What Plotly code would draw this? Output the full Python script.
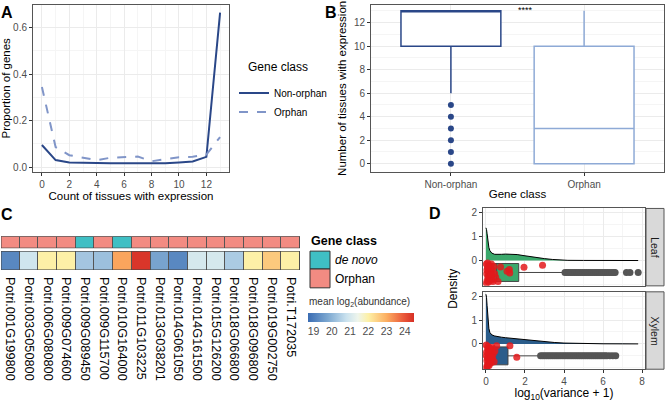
import plotly.graph_objects as go

W, H = 670, 402
FONT = "Liberation Sans, Arial, sans-serif"

# ---------------- Panel A data ----------------
tissue_counts = list(range(14))
prop_nonorphan = [0.095, 0.030, 0.020, 0.017, 0.017, 0.016, 0.016, 0.015, 0.015, 0.016, 0.020, 0.024, 0.044, 0.664]
prop_orphan = [0.344, 0.086, 0.051, 0.041, 0.030, 0.040, 0.044, 0.045, 0.025, 0.033, 0.042, 0.044, 0.054, 0.129]

# ---------------- Panel B data ----------------
b_positions = [1, 2]
b_classes = ["Non-orphan", "Orphan"]
b_q1 = [10, 0]
b_median = [13, 3]
b_q3 = [13, 10]
b_lower = [6, 0]
b_upper = [13, 13]
b_outliers_nonorphan = [0, 1, 2, 3, 4, 5]

# ---------------- Panel C data ----------------
c_genes = ["Potri.001G199800", "Potri.003G050800", "Potri.006G080800", "Potri.009G074600",
           "Potri.009G089450", "Potri.009G115700", "Potri.010G164000", "Potri.011G103225",
           "Potri.013G038201", "Potri.014G061050", "Potri.014G161500", "Potri.015G126200",
           "Potri.018G066800", "Potri.018G096800", "Potri.019G002750", "Potri.T172035"]
c_class = ["Orphan", "Orphan", "Orphan", "Orphan", "de novo", "Orphan", "de novo", "Orphan",
           "Orphan", "Orphan", "Orphan", "Orphan", "Orphan", "Orphan", "Orphan", "Orphan"]
c_abundance = [19.2, 20.9, 22.0, 22.0, 20.3, 20.2, 23.1, 24.4,
               19.7, 19.2, 21.0, 21.0, 20.4, 22.0, 22.6, 22.0]
c_ticks = [19, 20, 21, 22, 23, 24]

# ---------------- Panel D data ----------------
leaf_x = [0.0, 0.03, 0.06, 0.1, 0.15, 0.2, 0.3, 0.45, 0.6, 0.8, 1.0, 1.3, 1.6, 1.9, 2.2, 2.6, 3.0, 3.4, 3.8, 4.2, 5.0, 6.0, 7.0, 7.8]
leaf_density = [1.37, 1.30, 1.12, 0.82, 0.55, 0.42, 0.31, 0.26, 0.25, 0.26, 0.27, 0.27, 0.25, 0.21, 0.17, 0.12, 0.08, 0.045, 0.02, 0.008, 0.004, 0.002, 0.001, 0.0]
xylem_x = [0.0, 0.03, 0.06, 0.1, 0.15, 0.2, 0.3, 0.45, 0.6, 0.8, 1.0, 1.5, 2.0, 2.5, 3.0, 3.5, 4.0, 4.5, 5.0, 6.0, 7.0, 7.8]
xylem_density = [2.08, 1.95, 1.6, 1.05, 0.65, 0.48, 0.38, 0.33, 0.30, 0.28, 0.26, 0.22, 0.17, 0.12, 0.09, 0.06, 0.035, 0.02, 0.012, 0.005, 0.002, 0.0]

leaf_box = dict(q1=0.02, median=0.55, q3=1.68, lower=0.0, upper=4.0)
xylem_box = dict(q1=0.02, median=0.35, q3=1.13, lower=0.0, upper=2.75)

leaf_outliers = [4.05, 4.15, 4.25, 4.35, 4.45, 4.55, 4.65, 4.75, 4.85, 4.95, 5.05, 5.15, 5.25, 5.35,
                 5.45, 5.55, 5.65, 5.75, 5.85, 5.95, 6.05, 6.15, 6.25, 6.35, 6.45, 6.55, 6.62,
                 7.2, 7.38, 7.8]
xylem_outliers = [2.8, 2.9, 3.0, 3.1, 3.2, 3.3, 3.4, 3.5, 3.6, 3.7, 3.8, 3.9, 4.0, 4.1, 4.2, 4.3,
                  4.4, 4.5, 4.6, 4.7, 4.8, 4.9, 5.0, 5.1, 5.2, 5.3, 5.4, 5.5, 5.6, 5.7, 5.8, 5.9,
                  6.0, 6.1, 6.2, 6.35, 6.5, 6.65]

leaf_red_x = [0.02, 0.04, 0.06, 0.08, 0.1, 0.12, 0.14, 0.16, 0.18, 0.2, 0.22, 0.25, 0.28, 0.3, 0.33,
              0.36, 0.4, 0.45, 0.5, 0.03, 0.09, 0.13, 0.19, 0.24, 0.31, 0.05, 0.11, 0.17, 0.27,
              0.62, 0.75, 1.08, 1.2, 1.22, 1.95, 2.9]
leaf_red_y = [-0.15, -0.55, -0.85, -0.3, -0.7, -0.45, -0.9, -0.2, -0.6, -0.35, -0.78, -0.5, -0.15,
              -0.65, -0.4, -0.88, -0.25, -0.55, -0.7, -0.95, -0.1, -0.62, -0.48, -0.3, -0.82, -0.4,
              -0.25, -0.72, -0.58, -0.88, -0.27, -0.45, -0.38, -0.52, -0.28, -0.2]
xylem_red_x = [0.01, 0.03, 0.05, 0.07, 0.09, 0.11, 0.13, 0.15, 0.17, 0.2, 0.22, 0.25, 0.28, 0.3, 0.34,
               0.38, 0.42, 0.46, 0.02, 0.06, 0.1, 0.14, 0.18, 0.24, 0.32, 0.04, 0.08, 0.12, 0.16,
               0.21, 0.27, 0.55, 1.23, 1.58]
xylem_red_y = [-0.05, -0.35, -0.7, -0.95, -0.2, -0.55, -0.85, -0.4, -0.15, -0.65, -0.3, -0.8, -0.5,
               -0.22, -0.6, -0.4, -0.75, -0.3, -0.5, -0.9, -0.1, -0.68, -0.28, -0.45, -0.15, -1.0,
               -0.6, -0.35, -0.9, -0.7, -0.55, -0.08, -0.08, -0.56]

# ---------------- styling ----------------
NAVY = "#2a4788"
LIGHTB = "#8095c8"
B_ORPH = "#8eaad6"
TEAL = "#3fbfc4"
SALMON = "#f28b82"
GREEN = "#3aa86b"
XBLUE = "#2b5d8b"
RED = "#e31a1c"
GRID = "#ebebeb"
MINOR = "#f5f5f5"
BORDER = "#555555"
TICKC = "#4d4d4d"
TICKSIZE = 10
TITLESIZE = 11.5


def px(p):
    return p / W


def py(p):
    return 1 - p / H


def frame(**kw):
    d = dict(showline=True, mirror=True, linecolor=BORDER, linewidth=1,
             ticks="outside", ticklen=3, tickcolor="#333333",
             tickfont=dict(size=TICKSIZE, color=TICKC, family=FONT),
             showgrid=True, gridcolor=GRID, gridwidth=1, zeroline=False)
    d.update(kw)
    return d


fig = go.Figure()

# ---- Panel A ----
fig.add_trace(go.Scatter(x=tissue_counts, y=prop_nonorphan, mode="lines", name="Non-orphan",
                         line=dict(color=NAVY, width=2), xaxis="x", yaxis="y"))
fig.add_trace(go.Scatter(x=tissue_counts, y=prop_orphan, mode="lines", name="Orphan",
                         line=dict(color=LIGHTB, width=2, dash="dash"), xaxis="x", yaxis="y"))

# ---- Panel B ----
b_colors = [NAVY, B_ORPH]
for i in range(2):
    fig.add_trace(go.Box(x=[b_positions[i]], q1=[b_q1[i]], median=[b_median[i]], q3=[b_q3[i]],
                         lowerfence=[b_lower[i]], upperfence=[b_upper[i]], width=0.75,
                         fillcolor="white", line=dict(color=b_colors[i], width=1.5),
                         whiskerwidth=0, boxpoints=False, showlegend=False,
                         xaxis="x2", yaxis="y2"))
fig.add_trace(go.Scatter(x=[b_positions[0]] * len(b_outliers_nonorphan), y=b_outliers_nonorphan,
                         mode="markers", marker=dict(color=NAVY, size=6), showlegend=False,
                         xaxis="x2", yaxis="y2"))

# ---- Panel C ----
cols = list(range(len(c_genes)))
fig.add_trace(go.Heatmap(z=[[1 if c == "Orphan" else 0 for c in c_class]], x=cols, y=[0],
                         colorscale=[[0, TEAL], [0.5, TEAL], [0.5, SALMON], [1, SALMON]],
                         zmin=0, zmax=1, showscale=False, xgap=1, xaxis="x3", yaxis="y3",
                         hoverinfo="skip"))
cscale = [[0.0, "#3a6cb3"], [0.19, "#7ea9d1"], [0.36, "#c9e1ee"], [0.47, "#eef5ec"],
          [0.57, "#fdf0a6"], [0.74, "#fcaf62"], [0.9, "#ea5a3b"], [1.0, "#d62f26"]]
fig.add_trace(go.Heatmap(z=[c_abundance], x=cols, y=[0], colorscale=cscale, zmin=18.7, zmax=24.5,
                         xgap=1, xaxis="x4", yaxis="y4", hoverinfo="skip",
                         colorbar=dict(orientation="h", x=px(361), xanchor="center", y=py(314),
                                       yanchor="top", len=106, lenmode="pixels", thickness=9,
                                       tickvals=c_ticks, ticks="", outlinewidth=0, xpad=0, ypad=0,
                                       tickfont=dict(size=10.5, color=TICKC, family=FONT))))

# ---- Panel D ----
for (dx, dy, fill, xa, ya) in [(leaf_x, leaf_density, GREEN, "x5", "y5"),
                               (xylem_x, xylem_density, XBLUE, "x6", "y6")]:
    fig.add_trace(go.Scatter(x=dx, y=dy, mode="lines", fill="tozeroy", fillcolor=fill,
                             line=dict(color="black", width=1), showlegend=False,
                             xaxis=xa, yaxis=ya))
for (bx, fill, xa, ya) in [(leaf_box, GREEN, "x5", "y5"), (xylem_box, XBLUE, "x6", "y6")]:
    fig.add_trace(go.Box(y=[-0.5], q1=[bx["q1"]], median=[bx["median"]], q3=[bx["q3"]],
                         lowerfence=[bx["lower"]], upperfence=[bx["upper"]], width=0.75,
                         orientation="h", fillcolor=fill, line=dict(color="#444444", width=1),
                         whiskerwidth=0, boxpoints=False, showlegend=False,
                         xaxis=xa, yaxis=ya))
for (ox, xa, ya) in [(leaf_outliers, "x5", "y5"), (xylem_outliers, "x6", "y6")]:
    fig.add_trace(go.Scatter(x=ox, y=[-0.5] * len(ox), mode="markers",
                             marker=dict(color="#555555", size=7), showlegend=False,
                             xaxis=xa, yaxis=ya))
for (rx, ry, xa, ya) in [(leaf_red_x, leaf_red_y, "x5", "y5"), (xylem_red_x, xylem_red_y, "x6", "y6")]:
    fig.add_trace(go.Scatter(x=rx, y=ry, mode="markers",
                             marker=dict(color=RED, size=7, opacity=0.85), showlegend=False,
                             xaxis=xa, yaxis=ya))

# ---------------- layout ----------------
title_font = dict(size=TITLESIZE, color="black", family=FONT)
layout = dict(
    width=W, height=H, margin=dict(l=0, r=0, t=0, b=0),
    paper_bgcolor="white", plot_bgcolor="white",
    font=dict(family=FONT, color="black"),
    legend=dict(x=px(234), y=py(78), xanchor="left", yanchor="top",
                font=dict(size=10, family=FONT), bgcolor="rgba(0,0,0,0)", itemwidth=30,
                tracegroupgap=0),
    # A
    xaxis=frame(domain=[px(33), px(229)], range=[-0.65, 13.65], tickvals=[0, 2, 4, 6, 8, 10, 12],
                minor=dict(dtick=1, tick0=0, showgrid=True, gridcolor=MINOR, gridwidth=0.6),
                title=dict(text="Count of tissues with expression", font=title_font, standoff=1),
                anchor="y"),
    yaxis=frame(domain=[py(172), py(4)], range=[-0.02, 0.697], tickvals=[0, 0.2, 0.4, 0.6],
                ticktext=["0.0", "0.2", "0.4", "0.6"],
                minor=dict(dtick=0.1, tick0=0, showgrid=True, gridcolor=MINOR, gridwidth=0.6),
                title=dict(text="Proportion of genes", font=title_font, standoff=4), anchor="x"),
    # B
    xaxis2=frame(domain=[px(371), px(664)], range=[0.4, 2.6], tickvals=b_positions,
                 ticktext=b_classes,
                 title=dict(text="Gene class", font=title_font, standoff=1), anchor="y2"),
    yaxis2=frame(domain=[py(172), py(4)], range=[-0.68, 13.5], tickvals=[0, 2, 4, 6, 8, 10, 12],
                 minor=dict(dtick=1, tick0=0, showgrid=True, gridcolor=MINOR, gridwidth=0.6),
                 title=dict(text="Number of tissues with expression", font=title_font, standoff=4),
                 anchor="x2"),
    # C
    xaxis3=dict(domain=[px(1), px(300)], range=[-0.5, 15.5], visible=False, anchor="y3"),
    yaxis3=dict(domain=[py(249), py(237)], range=[-0.5, 0.5], visible=False, anchor="x3"),
    xaxis4=dict(domain=[px(1), px(300)], range=[-0.5, 15.5], anchor="y4", tickvals=cols,
                ticktext=c_genes, tickangle=90, ticks="", showline=False, showgrid=False,
                zeroline=False, ticklabelstandoff=6,
                tickfont=dict(size=12.8, color="black", family=FONT)),
    yaxis4=dict(domain=[py(271), py(252)], range=[-0.5, 0.5], visible=False, anchor="x4"),
    # D
    xaxis5=frame(domain=[px(483), px(645)], range=[-0.15, 8.15], tickvals=[0, 2, 4, 6, 8],
                 showticklabels=False, ticks="",
                 minor=dict(dtick=1, tick0=0, showgrid=True, gridcolor=MINOR, gridwidth=0.6),
                 anchor="y5"),
    yaxis5=frame(domain=[py(287), py(209)], range=[-1.06, 2.18], tickvals=[0, 1, 2],
                 minor=dict(dtick=0.5, tick0=0, showgrid=True, gridcolor=MINOR, gridwidth=0.6),
                 anchor="x5"),
    xaxis6=frame(domain=[px(483), px(645)], range=[-0.15, 8.15], tickvals=[0, 2, 4, 6, 8],
                 minor=dict(dtick=1, tick0=0, showgrid=True, gridcolor=MINOR, gridwidth=0.6),
                 title=dict(text="log<sub>10</sub>(variance + 1)",
                            font=dict(size=12, color="black", family=FONT), standoff=6),
                 anchor="y6"),
    yaxis6=frame(domain=[py(371), py(293)], range=[-1.06, 2.18], tickvals=[0, 1, 2],
                 minor=dict(dtick=0.5, tick0=0, showgrid=True, gridcolor=MINOR, gridwidth=0.6),
                 anchor="x6"),
)
fig.update_layout(**layout)

shapes = [
    # heatmap gap backgrounds and borders
    dict(type="rect", xref="x3", yref="y3", x0=-0.5, x1=15.5, y0=-0.5, y1=0.5,
         fillcolor="#555555", line=dict(width=0), layer="below"),
    dict(type="rect", xref="x4", yref="y4", x0=-0.5, x1=15.5, y0=-0.5, y1=0.5,
         fillcolor="#555555", line=dict(width=0), layer="below"),
    dict(type="rect", xref="x3", yref="y3", x0=-0.5, x1=15.5, y0=-0.5, y1=0.5,
         line=dict(color="#444444", width=1), layer="above"),
    dict(type="rect", xref="x4", yref="y4", x0=-0.5, x1=15.5, y0=-0.5, y1=0.5,
         line=dict(color="#444444", width=1), layer="above"),
    # C legend keys
    dict(type="rect", xref="paper", yref="paper", x0=px(310), x1=px(330), y0=py(270), y1=py(252),
         fillcolor=TEAL, line=dict(color="#333333", width=1)),
    dict(type="rect", xref="paper", yref="paper", x0=px(310), x1=px(330), y0=py(289), y1=py(270),
         fillcolor=SALMON, line=dict(color="#333333", width=1)),
    # D strips
    dict(type="rect", xref="paper", yref="paper", x0=px(646), x1=px(664), y0=py(287), y1=py(209),
         fillcolor="#d9d9d9", line=dict(color="#555555", width=1)),
    dict(type="rect", xref="paper", yref="paper", x0=px(646), x1=px(664), y0=py(371), y1=py(293),
         fillcolor="#d9d9d9", line=dict(color="#555555", width=1)),
]
fig.update_layout(shapes=shapes)


def ann(text, x, y, size=12, angle=0, xanchor="center", bold=False, italic=False, color="black"):
    t = text
    if bold:
        t = "<b>" + t + "</b>"
    if italic:
        t = "<i>" + t + "</i>"
    return dict(text=t, x=px(x), y=py(y), xref="paper", yref="paper", showarrow=False,
                textangle=angle, xanchor=xanchor, yanchor="middle",
                font=dict(size=size, color=color, family=FONT))


annotations = [
    ann("A", 7, 12, size=16, bold=True),
    ann("B", 331, 12, size=16, bold=True),
    ann("C", 7, 215, size=16, bold=True),
    ann("D", 435, 214, size=16, bold=True),
    ann("****", 525, 9, size=9),
    ann("Gene class", 246, 67, size=12, xanchor="left"),
    ann("Gene class", 309, 242, size=12.5, bold=True, xanchor="left"),
    ann("de novo", 333, 261, size=12, italic=True, xanchor="left"),
    ann("Orphan", 333, 280, size=12, xanchor="left"),
    ann("mean log<sub>2</sub>(abundance)", 307, 303, size=10, xanchor="left", color="#333333"),
    ann("Density", 453, 290, size=12, angle=-90),
    ann("Leaf", 655, 248, size=10.5, angle=90, color="#1a1a1a"),
    ann("Xylem", 655, 332, size=10.5, angle=90, color="#1a1a1a"),
]
fig.update_layout(annotations=annotations)

fig.write_html("out.html", config={"displayModeBar": False},
               post_script="document.body.style.margin='0px';")
